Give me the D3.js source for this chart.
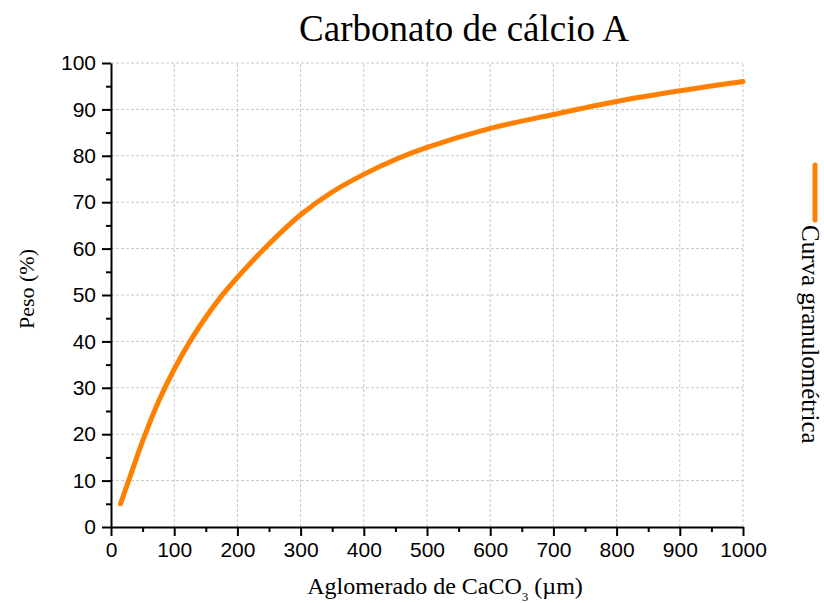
<!DOCTYPE html>
<html>
  <head>
    <meta charset="UTF-8" />
    <style>
      body {
        margin: 0;
        background-color: rgb(255, 255, 255);
      }
      .tick text {
        font-family: 'Liberation Sans', Arial, sans-serif;
        font-size: 21px;
        fill: rgb(0, 0, 0);
      }
      .serif {
        font-family: 'Liberation Serif', 'Times New Roman', serif;
        fill: rgb(0, 0, 0);
      }
    </style>
  </head>
  <body>
    <svg></svg>

    <script src="https://d3js.org/d3.v7.min.js"></script>

    <script>
      let width = 824,
        height = 603

      // values
      let diametro = [15, 30, 50, 75, 100, 125, 150, 175, 200, 250, 300, 350, 400, 450, 500, 600, 700, 800, 900, 1000]
      let peso = [5, 10.8, 18.5, 27, 34, 40, 45.2, 49.8, 53.8, 61.0, 67.3, 72.2, 76.0, 79.2, 81.8, 85.9, 88.9, 91.7, 94.0, 96.0]

      let xTicks = [0, 100, 200, 300, 400, 500, 600, 700, 800, 900, 1000]
      let yTicks = [0, 10, 20, 30, 40, 50, 60, 70, 80, 90, 100]

      let svg = d3.select('svg').attr('width', width).attr('height', height)

      let x = d3.scaleLinear().domain([0, 1000]).range([111, 743])
      let y = d3.scaleLinear().domain([0, 100]).range([527, 63])

      // grid
      let grid = svg.append('g')
      grid
        .selectAll('line.v')
        .data(xTicks.slice(1))
        .enter()
        .append('line')
        .attr('x1', (d) => x(d))
        .attr('x2', (d) => x(d))
        .attr('y1', y(0))
        .attr('y2', y(100))
        .attr('stroke', 'rgb(200, 200, 200)')
        .attr('stroke-dasharray', '3,2')
      grid
        .selectAll('line.h')
        .data(yTicks.slice(1))
        .enter()
        .append('line')
        .attr('x1', x(0))
        .attr('x2', x(1000))
        .attr('y1', (d) => y(d))
        .attr('y2', (d) => y(d))
        .attr('stroke', 'rgb(200, 200, 200)')
        .attr('stroke-dasharray', '3,2')

      // minor ticks
      svg
        .append('g')
        .attr('transform', 'translate(0,' + y(0) + ')')
        .call(d3.axisBottom(x).tickValues(d3.range(50, 1000, 100)).tickSize(5).tickFormat(''))
        .call((g) => g.select('.domain').remove())
        .call((g) => g.selectAll('line').attr('stroke-width', 2))
      svg
        .append('g')
        .attr('transform', 'translate(' + x(0) + ',0)')
        .call(d3.axisLeft(y).tickValues(d3.range(5, 100, 10)).tickSize(5).tickFormat(''))
        .call((g) => g.select('.domain').remove())
        .call((g) => g.selectAll('line').attr('stroke-width', 2))

      // major axes
      svg
        .append('g')
        .attr('transform', 'translate(0,' + y(0) + ')')
        .call(d3.axisBottom(x).tickValues(xTicks).tickFormat(d3.format('d')).tickSize(9).tickSizeOuter(0).tickPadding(6))
        .call((g) => g.select('.domain').attr('stroke-width', 2))
        .call((g) => g.selectAll('line').attr('stroke-width', 2))
      svg
        .append('g')
        .attr('transform', 'translate(' + x(0) + ',0)')
        .call(d3.axisLeft(y).tickValues(yTicks).tickFormat(d3.format('d')).tickSize(9).tickSizeOuter(0).tickPadding(6))
        .call((g) => g.select('.domain').attr('stroke-width', 2))
        .call((g) => g.selectAll('line').attr('stroke-width', 2))

      // curve
      let line = d3
        .line()
        .x((d, i) => x(diametro[i]))
        .y((d, i) => y(peso[i]))
        .curve(d3.curveCatmullRom.alpha(0.5))

      svg
        .append('path')
        .datum(peso)
        .attr('d', line)
        .attr('fill', 'none')
        .attr('stroke', 'rgb(255, 128, 0)')
        .attr('stroke-width', 5)
        .attr('stroke-linecap', 'round')

      // title and labels
      svg
        .append('text')
        .attr('class', 'serif')
        .attr('x', 464)
        .attr('y', 41)
        .attr('text-anchor', 'middle')
        .attr('font-size', 37)
        .text('Carbonato de cálcio A')

      let xl = svg
        .append('text')
        .attr('class', 'serif')
        .attr('x', 445)
        .attr('y', 594)
        .attr('text-anchor', 'middle')
        .attr('font-size', 24)
      xl.append('tspan').text('Aglomerado de CaCO')
      xl.append('tspan').attr('font-size', 13).attr('dy', 7).text('3')
      xl.append('tspan').attr('dy', -7).text(' (µm)')

      svg
        .append('text')
        .attr('class', 'serif')
        .attr('transform', 'translate(34,289) rotate(-90)')
        .attr('text-anchor', 'middle')
        .attr('font-size', 22)
        .text('Peso (%)')

      // legend
      svg
        .append('line')
        .attr('x1', 815)
        .attr('x2', 815)
        .attr('y1', 165)
        .attr('y2', 220)
        .attr('stroke', 'rgb(255, 128, 0)')
        .attr('stroke-width', 5)
        .attr('stroke-linecap', 'round')

      svg
        .append('text')
        .attr('class', 'serif')
        .attr('transform', 'translate(802,225) rotate(90)')
        .attr('font-size', 25)
        .text('Curva granulométrica')
    </script>
  </body>
</html>
